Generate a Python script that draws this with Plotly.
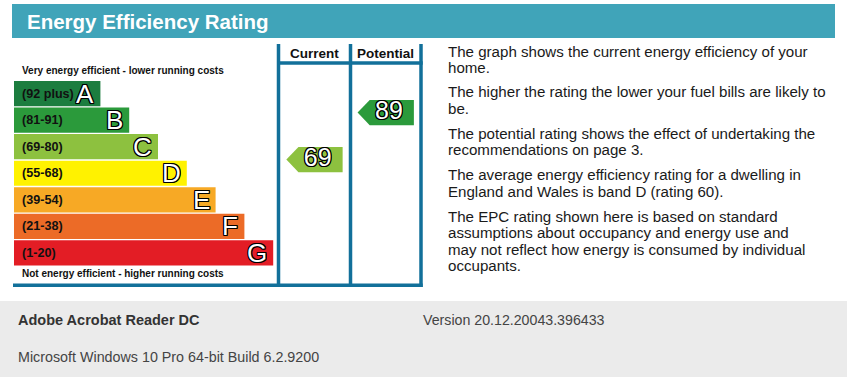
import plotly.graph_objects as go

W, H = 847, 377

# ---- data ----
bands = ["A", "B", "C", "D", "E", "F", "G"]
band_ranges = ["(92 plus)", "(81-91)", "(69-80)", "(55-68)", "(39-54)", "(21-38)", "(1-20)"]
band_min = [92, 81, 69, 55, 39, 21, 1]
band_lengths = [3, 4, 5, 6, 7, 8, 9]
band_colors = ["#1c7d3f", "#2b9a3b", "#8dc13f", "#fff200", "#f7a925", "#ec6b27", "#e31d25"]
columns = ["Current", "Potential"]
ratings = [69, 89]
info_paragraphs = [
    ["The graph shows the current energy efficiency of your", "home."],
    ["The higher the rating the lower your fuel bills are likely to", "be."],
    ["The potential rating shows the effect of undertaking the", "recommendations on page 3."],
    ["The average energy efficiency rating for a dwelling in", "England and Wales is band D (rating 60)."],
    ["The EPC rating shown here is based on standard",
     "assumptions about occupancy and energy use and",
     "may not reflect how energy is consumed by individual",
     "occupants."],
]
title_text = "Energy Efficiency Rating"
top_note = "Very energy efficient - lower running costs"
bottom_note = "Not energy efficient - higher running costs"
footer_app = "Adobe Acrobat Reader DC"
footer_version = "Version 20.12.20043.396433"
footer_os = "Microsoft Windows 10 Pro 64-bit Build 6.2.9200"


def px(x):
    return x / W


def py(y):
    return 1 - y / H


def band_of(r):
    for i, m in enumerate(band_min):
        if r >= m:
            return i
    return len(band_min) - 1


FONT = "Arial, Liberation Sans, sans-serif"
OUTLINE = "-1px -1px 0 #000, 1px -1px 0 #000, -1px 1px 0 #000, 1px 1px 0 #000, 0 1px 0 #000, 0 -1px 0 #000, 1px 0 0 #000, -1px 0 0 #000"
LINE = "#12709a"
HEAD = "#40a4b9"

fig = go.Figure()

# bands bar chart
fig.add_trace(go.Bar(
    x=band_lengths, y=bands, orientation="h",
    marker=dict(color=band_colors, line=dict(width=0)),
    hoverinfo="skip", xaxis="x", yaxis="y", showlegend=False,
))

# rating markers (numbers) on rating axis
fig.add_trace(go.Scatter(
    x=[i + 0.55 for i in range(len(ratings))], y=ratings, mode="text",
    text=[str(r) for r in ratings],
    textfont=dict(family=FONT, size=25, color="white", shadow=OUTLINE),
    textposition="middle center", hoverinfo="skip", xaxis="x2", yaxis="y2", showlegend=False,
))

shapes = []
annotations = []

# header bar
shapes.append(dict(type="rect", xref="paper", yref="paper", x0=px(12), x1=px(835), y0=py(38), y1=py(4),
                   fillcolor=HEAD, line=dict(width=0), layer="below"))
annotations.append(dict(x=px(25), y=py(21.5), xref="paper", yref="paper", text=f"<b>{title_text}</b>",
                        showarrow=False, xanchor="left", yanchor="middle",
                        font=dict(family=FONT, size=20.5, color="white")))

# footer
shapes.append(dict(type="rect", xref="paper", yref="paper", x0=0, x1=1, y0=0, y1=py(301),
                   fillcolor="#ebebeb", line=dict(width=0), layer="below"))
annotations.append(dict(x=px(16), y=py(320), xref="paper", yref="paper", text=f"<b>{footer_app}</b>",
                        showarrow=False, xanchor="left", yanchor="middle",
                        font=dict(family=FONT, size=14.5, color="#333333")))
annotations.append(dict(x=px(421), y=py(320), xref="paper", yref="paper", text=footer_version,
                        showarrow=False, xanchor="left", yanchor="middle",
                        font=dict(family=FONT, size=14.2, color="#444444")))
annotations.append(dict(x=px(16), y=py(357), xref="paper", yref="paper", text=footer_os,
                        showarrow=False, xanchor="left", yanchor="middle",
                        font=dict(family=FONT, size=14.3, color="#444444")))

# frame lines
for xv in (278.5, 350.5, 421):
    shapes.append(dict(type="line", xref="paper", yref="paper", x0=px(xv), x1=px(xv), y0=py(44), y1=py(287),
                       line=dict(color=LINE, width=3.5)))
shapes.append(dict(type="line", xref="paper", yref="paper", x0=px(277), x1=px(422.7), y0=py(63), y1=py(63),
                   line=dict(color=LINE, width=3.5)))
shapes.append(dict(type="line", xref="paper", yref="paper", x0=px(13), x1=px(422.7), y0=py(285.2), y1=py(285.2),
                   line=dict(color=LINE, width=3.5)))

# column headers
for i, c in enumerate(columns):
    annotations.append(dict(x=i + 0.5, y=py(53), xref="x2", yref="paper", text=f"<b>{c}</b>",
                            showarrow=False, xanchor="center", yanchor="middle",
                            font=dict(family=FONT, size=13.5, color="#111111")))

# band labels and letters
for b, rng, ln in zip(bands, band_ranges, band_lengths):
    annotations.append(dict(x=0, y=b, xref="x", yref="y", text=f"<b>{rng}</b>", showarrow=False,
                            xanchor="left", yanchor="middle", xshift=6,
                            font=dict(family=FONT, size=12.6, color="#111111")))
    annotations.append(dict(x=ln, y=b, xref="x", yref="y", text=b, showarrow=False,
                            xanchor="right", yanchor="middle", xshift=-4, yshift=0,
                            font=dict(family=FONT, size=26, color="white", shadow=OUTLINE)))

annotations.append(dict(x=px(20), y=py(70), xref="paper", yref="paper", text=f"<b>{top_note}</b>",
                        showarrow=False, xanchor="left", yanchor="middle",
                        font=dict(family=FONT, size=10, color="#111111")))
annotations.append(dict(x=px(20), y=py(273), xref="paper", yref="paper", text=f"<b>{bottom_note}</b>",
                        showarrow=False, xanchor="left", yanchor="middle",
                        font=dict(family=FONT, size=10, color="#111111")))

# rating arrows (drawn on the rating axis)
half_h = 5.35
tip = 0.11
notch = 0.28
right = 0.90
for i, r in enumerate(ratings):
    col = band_colors[band_of(r)]
    path = (f"M {i + tip},{r} L {i + notch},{r + half_h} L {i + right},{r + half_h} "
            f"L {i + right},{r - half_h} L {i + notch},{r - half_h} Z")
    shapes.append(dict(type="path", xref="x2", yref="y2", path=path, fillcolor=col,
                       line=dict(width=0), layer="below"))

# info text
y0s = [51, 92, 133, 174.5, 216]
for p, lines in enumerate(info_paragraphs):
    for k, line in enumerate(lines):
        annotations.append(dict(x=px(446), y=py(y0s[p] + 16.6 * k), xref="paper", yref="paper", text=line,
                                showarrow=False, xanchor="left", yanchor="middle",
                                font=dict(family=FONT, size=15.1, color="#1a1a1a")))

fig.update_layout(
    width=W, height=H, margin=dict(l=0, r=0, t=0, b=0),
    paper_bgcolor="white", plot_bgcolor="rgba(0,0,0,0)",
    bargap=0.05,
    xaxis=dict(domain=[px(14), px(302)], range=[0, 10], visible=False, fixedrange=True),
    yaxis=dict(domain=[py(266.2), py(80.3)], categoryorder="array", categoryarray=bands[::-1],
               range=[-0.5, 6.5], visible=False, fixedrange=True),
    xaxis2=dict(domain=[px(278.5), px(421)], range=[0, 2], anchor="y2", visible=False, fixedrange=True),
    yaxis2=dict(domain=[0, 1], range=[-23.5, 136.9], anchor="x2", visible=False, fixedrange=True),
    shapes=shapes, annotations=annotations,
)

fig.write_html("out.html", config={"displayModeBar": False},
               post_script="document.body.style.margin='0';document.body.style.overflow='hidden';")
